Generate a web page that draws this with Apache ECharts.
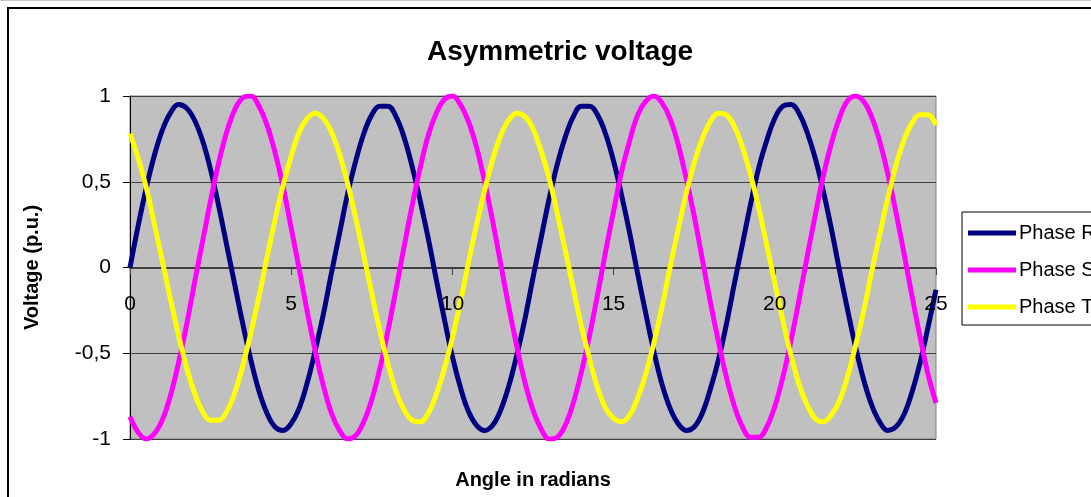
<!DOCTYPE html>
<html>
<head>
<meta charset="utf-8">
<script src="https://cdn.jsdelivr.net/npm/echarts@6/dist/echarts.min.js"></script>
<style>
html,body{margin:0;padding:0;background:#fff;}
#chart{width:1091px;height:497px;}
</style>
</head>
<body>
<div id="chart"></div>
<script>
const angles = [0,0.25,0.5,0.75,1,1.25,1.5,1.75,2,2.25,2.5,2.75,3,3.25,3.5,3.75,4,4.25,4.5,4.75,5,5.25,5.5,5.75,6,6.25,6.5,6.75,7,7.25,7.5,7.75,8,8.25,8.5,8.75,9,9.25,9.5,9.75,10,10.25,10.5,10.75,11,11.25,11.5,11.75,12,12.25,12.5,12.75,13,13.25,13.5,13.75,14,14.25,14.5,14.75,15,15.25,15.5,15.75,16,16.25,16.5,16.75,17,17.25,17.5,17.75,18,18.25,18.5,18.75,19,19.25,19.5,19.75,20,20.25,20.5,20.75,21,21.25,21.5,21.75,22,22.25,22.5,22.75,23,23.25,23.5,23.75,24,24.25,24.5,24.75,25];
const phaseR = [0,0.24,0.46,0.65,0.80,0.90,0.95,0.93,0.86,0.74,0.57,0.36,0.13,-0.10,-0.33,-0.54,-0.72,-0.85,-0.93,-0.95,-0.91,-0.82,-0.67,-0.48,-0.27,-0.03,0.20,0.43,0.62,0.78,0.89,0.94,0.94,0.88,0.76,0.59,0.39,0.17,-0.07,-0.30,-0.52,-0.70,-0.84,-0.92,-0.95,-0.92,-0.83,-0.69,-0.51,-0.30,-0.06,0.17,0.40,0.60,0.76,0.88,0.94,0.94,0.89,0.78,0.62,0.42,0.20,-0.04,-0.27,-0.49,-0.68,-0.82,-0.91,-0.95,-0.93,-0.85,-0.71,-0.54,-0.33,-0.09,0.14,0.37,0.58,0.74,0.87,0.94,0.95,0.90,0.79,0.64,0.45,0.23,-0.01,-0.24,-0.46,-0.65,-0.80,-0.90,-0.95,-0.93,-0.86,-0.73,-0.56,-0.35,-0.13];
const phaseS = [-0.87,-0.96,-1.00,-0.97,-0.89,-0.75,-0.56,-0.34,-0.09,0.15,0.39,0.61,0.79,0.92,0.99,1.00,0.94,0.83,0.67,0.47,0.23,-0.01,-0.26,-0.49,-0.69,-0.85,-0.95,-1.00,-0.98,-0.90,-0.77,-0.59,-0.37,-0.13,0.12,0.36,0.58,0.77,0.90,0.98,1.00,0.95,0.85,0.70,0.50,0.27,0.02,-0.23,-0.46,-0.67,-0.83,-0.94,-1.00,-0.99,-0.92,-0.79,-0.61,-0.40,-0.16,0.09,0.33,0.56,0.74,0.89,0.97,1.00,0.96,0.87,0.72,0.52,0.30,0.05,-0.20,-0.43,-0.64,-0.81,-0.93,-0.99,-0.99,-0.93,-0.81,-0.64,-0.43,-0.19,0.06,0.30,0.53,0.72,0.87,0.97,1.00,0.97,0.88,0.74,0.55,0.33,0.09,-0.16,-0.40,-0.62,-0.79];
const phaseT = [0.78,0.64,0.47,0.26,0.04,-0.18,-0.39,-0.58,-0.73,-0.84,-0.89,-0.89,-0.84,-0.73,-0.57,-0.38,-0.17,0.06,0.28,0.48,0.65,0.79,0.87,0.90,0.87,0.79,0.66,0.49,0.29,0.07,-0.15,-0.37,-0.56,-0.72,-0.83,-0.89,-0.90,-0.85,-0.74,-0.59,-0.41,-0.20,0.03,0.25,0.45,0.63,0.77,0.86,0.90,0.88,0.81,0.68,0.52,0.32,0.10,-0.12,-0.34,-0.53,-0.70,-0.82,-0.88,-0.90,-0.86,-0.76,-0.62,-0.44,-0.23,0.00,0.22,0.43,0.61,0.75,0.85,0.90,0.89,0.82,0.70,0.54,0.35,0.13,-0.09,-0.31,-0.51,-0.68,-0.80,-0.88,-0.90,-0.86,-0.78,-0.64,-0.46,-0.26,-0.03,0.19,0.40,0.59,0.74,0.84,0.89,0.89,0.83];
const seriesNames = ['Phase R','Phase S','Phase T'];
const xTicks = [0,5,10,15,20,25];
const yTicks = [-1,-0.5,0,0.5,1];

const pairs = arr => angles.map((a,i)=>[a,arr[i]]);
const colors = ['#000080','#FF00FF','#FFFF00'];
const values = [phaseR, phaseS, phaseT];
const fontFam = 'Liberation Sans, Arial';

const chart = echarts.init(document.getElementById('chart'), null, {renderer:'canvas'});
chart.setOption({
  animation:false,
  backgroundColor:'#ffffff',
  title:{
    text:'Asymmetric voltage',
    left:555, top:33, textAlign:'center',
    textStyle:{fontFamily:fontFam,fontSize:28,fontWeight:'bold',color:'#000'}
  },
  graphic:[
    {type:'rect',shape:{x:8,y:8,width:1200,height:600},style:{fill:null,stroke:'#000',lineWidth:2},z:-1,silent:true},
    {type:'line',shape:{x1:0,y1:0.5,x2:1091,y2:0.5},style:{stroke:'#c8c8c8',lineWidth:1},silent:true}
  ],
  legend:{
    orient:'vertical',
    left:962, top:212,
    data:seriesNames,
    icon:'rect',
    itemWidth:48, itemHeight:5, itemGap:15,
    padding:[10,40,7,6],
    borderColor:'#000', borderWidth:1,
    textStyle:{fontFamily:fontFam,fontSize:20,color:'#000',lineHeight:22,padding:[0,0,0,-2]}
  },
  grid:{
    left:130, top:96, right:155, bottom:58,
    show:true, backgroundColor:'#C0C0C0', borderColor:'#808080', borderWidth:1,
    containLabel:false, outerBoundsMode:'none'
  },
  xAxis:[
    {
      type:'value', min:0, max:25, interval:5,
      position:'bottom', offset:-171,
      name:'Angle in radians', nameLocation:'middle', nameGap:202,
      nameTextStyle:{fontFamily:fontFam,fontSize:20,fontWeight:'bold',color:'#000'},
      axisLine:{onZero:false,lineStyle:{color:'#404040',width:1}},
      axisTick:{show:true,length:7,lineStyle:{color:'#404040'}},
      axisLabel:{show:false},
      splitLine:{show:false}
    },
    {
      type:'value', min:0, max:25, interval:5,
      position:'bottom', offset:-171, z:20,
      axisLine:{show:false,onZero:false},
      axisTick:{show:false},
      axisLabel:{fontFamily:fontFam,fontSize:21,color:'#000',margin:26,
        customValues:xTicks, showMinLabel:true, showMaxLabel:true},
      splitLine:{show:false}
    }
  ],
  yAxis:{
    type:'value', min:-1, max:1, interval:0.5,
    name:'Voltage (p.u.)', nameLocation:'middle', nameGap:88, nameRotate:90,
    nameTextStyle:{fontFamily:fontFam,fontSize:20,fontWeight:'bold',color:'#000'},
    axisLine:{show:true,onZero:false,lineStyle:{color:'#000',width:1}},
    axisTick:{show:true,length:7,lineStyle:{color:'#000'}},
    axisLabel:{fontFamily:fontFam,fontSize:21,color:'#000',margin:19,padding:[8,0,0,0],
      customValues:yTicks, formatter:v=>String(v).replace('.',',')},
    splitLine:{show:true,lineStyle:{color:'#404040',width:1}}
  },
  series: seriesNames.map((n,i)=>({
    name:n, type:'line', xAxisIndex:0, data:pairs(values[i]), smooth:0.4, showSymbol:false, symbol:'none',
    lineStyle:{color:colors[i],width:5}, itemStyle:{color:colors[i]}, z:2+i
  }))
});
</script>
</body>
</html>
